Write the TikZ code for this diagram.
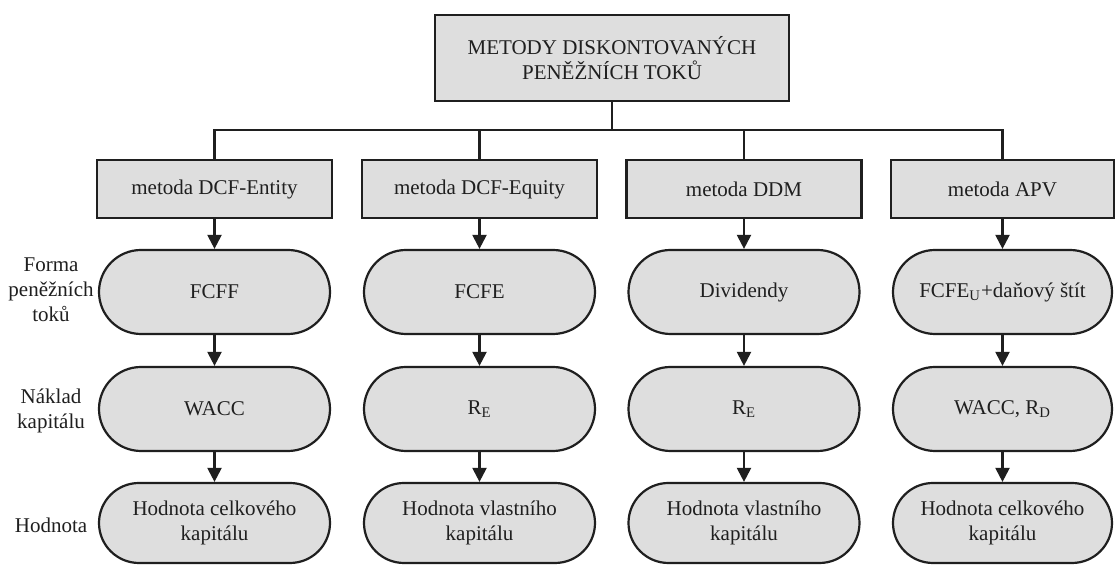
\documentclass[tikz,border=0pt]{standalone}
\usepackage{fontspec}
\setmainfont{Liberation Serif}
\usetikzlibrary{arrows.meta}
\definecolor{boxfill}{gray}{0.87}
\definecolor{ink}{gray}{0.12}
\tikzset{
  methodbox/.style={draw=ink, line width=1.1pt, fill=boxfill, minimum width=117.5pt, minimum height=29pt, inner sep=0pt, align=center},
  pill/.style={draw=ink, line width=1.1pt, fill=boxfill, minimum width=115.5pt, minimum height=42pt, rounded corners=21pt, inner sep=0pt, align=center},
  pilllow/.style={pill, minimum height=40pt, rounded corners=20pt},
  narrowbox/.style={minimum width=111.5pt},
  narrowpill/.style={minimum width=109.5pt},
  flow/.style={draw=ink, line width=1.1pt, -{Triangle[length=7pt,width=7pt]}},
  link/.style={draw=ink, line width=1.1pt},
  sidelabel/.style={align=center, inner sep=0pt}
}
\begin{document}
\begin{tikzpicture}[x=0.5pt, y=-0.5pt, font=\fontsize{10.5}{12.5}\selectfont, text=ink]
\useasboundingbox (0,0) rectangle (1116,565);
\fill[white] (0,0) rectangle (1116,565);

% top box
\node[methodbox, minimum width=177pt, minimum height=43pt] (top) at (612,58) {METODY DISKONTOVANÝCH\\PENĚŽNÍCH TOKŮ};

% method boxes
\node[methodbox] (b1) at (214.5,189) {metoda DCF-Entity};
\node[methodbox] (b2) at (479.5,189) {metoda DCF-Equity};
\node[methodbox] (b3) at (744,189) {metoda DDM};
\node[methodbox, narrowbox] (b4) at (1002.5,189) {metoda APV};

% row 1: cash flows
\node[pill] (f1) at (214.5,292) {FCFF};
\node[pill] (f2) at (479.5,292) {FCFE};
\node[pill] (f3) at (744,292) {Dividendy};
\node[pill, narrowpill] (f4) at (1002.5,292) {FCFE\textsubscript{U}+daňový štít};

% row 2: cost of capital
\node[pill] (c1) at (214.5,409) {WACC};
\node[pill] (c2) at (479.5,409) {R\textsubscript{E}};
\node[pill] (c3) at (744,409) {R\textsubscript{E}};
\node[pill, narrowpill] (c4) at (1002.5,409) {WACC, R\textsubscript{D}};

% row 3: value
\node[pilllow] (v1) at (214.5,523) {Hodnota celkového\\kapitálu};
\node[pilllow] (v2) at (479.5,523) {Hodnota vlastního\\kapitálu};
\node[pilllow] (v3) at (744,523) {Hodnota vlastního\\kapitálu};
\node[pilllow, narrowpill] (v4) at (1002.5,523) {Hodnota celkového\\kapitálu};

% side labels
\node[sidelabel] (l1) at (51,290) {Forma\\peněžních\\toků};
\node[sidelabel] (l2) at (51,411) {Náklad\\kapitálu};
\node[sidelabel] (l3) at (51,525) {Hodnota};

% tree connectors
\coordinate (j) at (612,130);
\draw[link] (top.south) -- (j);
\draw[link] (b1.north) |- (j) -| (b4.north);
\draw[link] (j -| b2.north) -- (b2.north);
\draw[link] (j -| b3.north) -- (b3.north);

% vertical flows
\foreach \i in {1,2,3,4}{
  \draw[flow] (b\i.south) -- (f\i.north);
  \draw[flow] (f\i.south) -- (c\i.north);
  \draw[flow] (c\i.south) -- (v\i.north);
}
\end{tikzpicture}
\end{document}
